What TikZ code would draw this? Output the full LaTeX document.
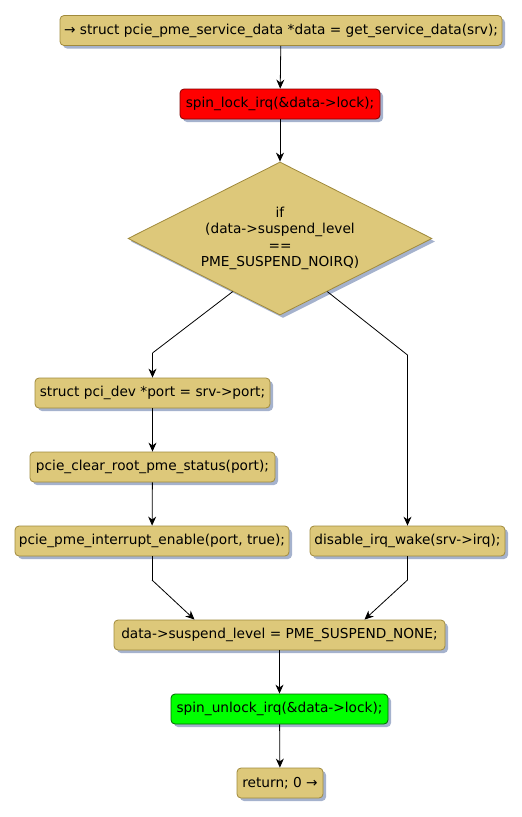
\documentclass[tikz,border=0pt]{standalone}
\usepackage{fontspec}
\setmainfont{DejaVu Sans}
\usetikzlibrary{shapes.geometric,shadows,arrows.meta,calc}
\definecolor{boxfill}{RGB}{221,200,122}
\definecolor{boxline}{RGB}{160,138,60}
\definecolor{shad}{RGB}{165,178,205}
\begin{document}
\begin{tikzpicture}[x=1pt,y=-1pt,
  base/.style={draw=boxline, fill=boxfill, line width=0.8pt, inner sep=0pt,
    font=\fontsize{13.7}{16.5}\selectfont,
    drop shadow={shadow xshift=3pt, shadow yshift=-3pt, fill=shad, opacity=1}},
  box/.style={base, rounded corners=4pt, minimum height=30pt},
  arr/.style={-{Stealth[length=9pt,width=8pt]}, line width=0.8pt},
  ln/.style={line width=0.8pt}]
\useasboundingbox (0,0) rectangle (522,817);
\node[box, minimum width=442pt] (n1) at (281,30.5) {→ struct pcie\_pme\_service\_data *data = get\_service\_data(srv);};
\node[box, minimum width=200pt, fill=red, draw=red!50!black] (n2) at (280,104) {spin\_lock\_irq(\&data->lock);};
\node[base, shape=diamond, minimum width=304pt, minimum height=153pt, aspect=1.99, align=center] (d) at (280,238.5) {if\\(data->suspend\_level\\==\\PME\_SUSPEND\_NOIRQ)};
\node[box, minimum width=235pt] (n4) at (152.5,393) {struct pci\_dev *port = srv->port;};
\node[box, minimum width=245pt] (n5) at (152.5,467) {pcie\_clear\_root\_pme\_status(port);};
\node[box, minimum width=274pt] (n6) at (152,541) {pcie\_pme\_interrupt\_enable(port, true);};
\node[box, minimum width=195pt] (n7) at (407.5,541) {disable\_irq\_wake(srv->irq);};
\node[box, minimum width=331pt] (n8) at (279.5,635) {data->suspend\_level = PME\_SUSPEND\_NONE;};
\node[box, minimum width=217pt, fill=green, draw=green!40!black] (n9) at (279.5,709) {spin\_unlock\_irq(\&data->lock);};
\node[box, minimum width=86pt] (n10) at (280,783) {return; 0 →};
\coordinate (dl) at ($(d.west)!0.69!(d.south)$);
\coordinate (dr) at ($(d.south)!0.31!(d.east)$);
\coordinate (b1) at (152.5,353);
\coordinate (b2) at (407.5,355);
\coordinate (m1) at (152,580);
\coordinate (m2) at (407.5,580);
\coordinate (j1) at ($(n8.north)+(-85,0)$);
\coordinate (j2) at ($(n8.north)+(85,0)$);
\draw[arr] (n1) -- (n2);
\draw[arr] (n2) -- (d);
\draw[ln] (dl) -- (b1);
\draw[arr] (b1) -- (n4);
\draw[ln] (dr) -- (b2);
\draw[arr] (b2) -- (n7);
\draw[arr] (n4) -- (n5);
\draw[arr] (n5) -- (n6);
\draw[ln] (n6) -- (m1);
\draw[arr] (m1) -- (j1);
\draw[ln] (n7) -- (m2);
\draw[arr] (m2) -- (j2);
\draw[arr] (n8) -- (n9);
\draw[arr] (n9) -- (n10);
\end{tikzpicture}
\end{document}
